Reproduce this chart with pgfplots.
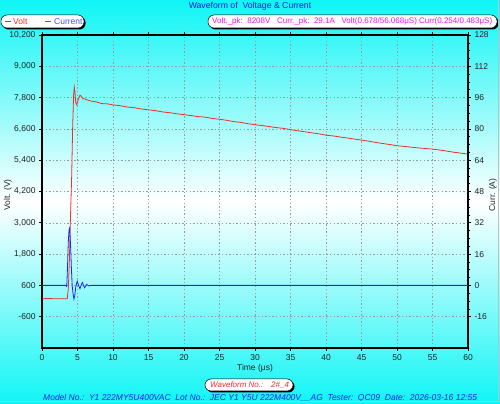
\documentclass[border=0pt]{standalone}
\usepackage{pgfplots}
\pgfplotsset{compat=1.18}
\usepackage{fontspec}
\setmainfont{Liberation Sans}
\usetikzlibrary{shadows}
\definecolor{cy}{RGB}{15,245,245}
\definecolor{vred}{RGB}{240,45,45}
\definecolor{cblue}{RGB}{35,35,240}
\definecolor{ttl}{RGB}{25,25,235}
\definecolor{mag}{RGB}{245,20,245}
\definecolor{gridc}{RGB}{155,155,155}
\definecolor{tickc}{RGB}{35,35,35}
\begin{document}
\begin{tikzpicture}
\shade[top color=cy, bottom color=cy, middle color=white] (0bp,0bp) rectangle (500bp,404bp);
\useasboundingbox (0bp,0bp) rectangle (500bp,404bp);
\pgfplotsset{
  common/.style={
    at={(42bp,56bp)}, anchor=south west, scale only axis,
    width=426bp, height=313bp,
    xmin=0, xmax=60,
    tick align=outside,
    major tick length=3bp, minor tick length=1.5bp,
    tick style={black, line width=0.6bp},
    /pgf/number format/assume math mode=true,
    ticklabel style={font=\fontsize{8.5bp}{10bp}\selectfont, text=tickc},
    scaled ticks=false,
  }
}
\begin{axis}[common,
  ymin=-1800, ymax=10200,
  xtick={0,5,...,60},
  ytick={-600,600,...,10200},
  xtick pos=both, ytick pos=left,
  xticklabel pos=lower,
  yticklabel style={/pgf/number format/1000 sep={,}},
  grid=major,
  major grid style={color=gridc, line width=0.55bp, dash pattern=on 1.4bp off 2.2bp},
  axis line style={black, line width=1.1bp},
  clip=true,
]
\addplot[vred, line width=0.8bp] coordinates {
(0,90) (1,95) (2,88) (3,92) (3.5,90) (3.56,100) (3.7,450) (3.85,1500) (3.99,3020)
(4.18,4790) (4.32,6680) (4.45,7900) (4.55,8200) (4.65,8000) (4.75,7620) (4.89,7530)
(5.1,7720) (5.35,7890) (5.5,7860) (5.7,7780) (5.96,7750) (6.5,7700) (7.0,7660)
(7.6,7640) (8.4,7570) (9.2,7560) (10,7520) (11,7490) (12,7440) (13,7410) (13.8,7370)
(15,7330) (16,7300) (17,7250) (18,7220) (19,7180) (20,7145) (21,7110) (22,7070)
(23,7050) (24,7000) (25,6970) (26,6930) (27,6880) (28,6850) (29,6800) (30,6760)
(31,6730) (32,6690) (33,6650) (34,6620) (35,6570) (36,6530) (37,6490) (38,6450)
(39,6410) (40,6360) (41,6330) (42,6290) (43,6250) (44,6210) (45,6170) (46,6130)
(47,6080) (48,6040) (49,6000) (50,5955) (51,5930) (52,5900) (53,5870) (54,5850)
(55,5825) (56,5790) (57,5750) (58,5705) (59,5670) (60,5635)
};
\end{axis}
\begin{axis}[common,
  ymin=-32, ymax=128,
  axis x line=none, axis y line*=right,
  ytick={-16,0,...,128},
  minor y tick num=3,
  axis line style={black, line width=1.1bp},
]
\addplot[cblue, line width=0.8bp] coordinates {
(0,0) (3.38,0) (3.45,-0.4) (3.5,0.5) (3.6,10) (3.7,22) (3.8,28) (3.87,29.1)
(3.95,26) (4.05,18) (4.15,8) (4.25,0) (4.38,-4.5) (4.5,-7) (4.62,-5) (4.75,-1)
(4.95,2.2) (5.15,0) (5.35,-1.7) (5.55,0.5) (5.7,1.5) (5.85,0) (6.0,-1.2)
(6.3,0.5) (6.6,-0.3) (6.9,0) (60,0)
};
\end{axis}
% axis labels
\node[rotate=90, font=\fontsize{8.5bp}{10bp}\selectfont, text=tickc] at (8bp,209bp) {Volt. (V)};
\node[rotate=90, font=\fontsize{8.5bp}{10bp}\selectfont, text=tickc] at (493bp,209bp) {Curr. (A)};
\node[font=\fontsize{8.5bp}{10bp}\selectfont, text=tickc] at (255bp,36bp) {Time (μs)};
% title
\node[font=\fontsize{8.7bp}{10bp}\selectfont, text=ttl] at (250bp,398bp) {Waveform of\ \ Voltage \& Current};
% legend box
\node[draw=black, line width=0.5bp, fill=white, rounded corners=6bp, minimum width=83bp, minimum height=13bp, inner sep=0pt,
  drop shadow={shadow xshift=1.5bp, shadow yshift=-1.5bp, fill=black, opacity=1}] at (42.5bp,382.5bp) {};
\draw[vred, line width=1bp] (5bp,382.5bp) -- (10.5bp,382.5bp);
\node[anchor=west, inner sep=0pt, font=\fontsize{8.5bp}{10bp}\selectfont, text=vred] at (13bp,382.5bp) {Volt};
\draw[cblue!80, line width=1bp] (45bp,382.5bp) -- (50.5bp,382.5bp);
\node[anchor=west, inner sep=0pt, font=\fontsize{8.5bp}{10bp}\selectfont, text=cblue!80] at (54bp,382.5bp) {Current};
% info box
\node[draw=black, line width=0.5bp, fill=white, rounded corners=6bp, minimum width=289bp, minimum height=13bp, inner sep=0pt,
  drop shadow={shadow xshift=1.5bp, shadow yshift=-1.5bp, fill=black, opacity=1}] at (352.5bp,382.5bp) {};
\node[anchor=west, inner sep=0pt, font=\fontsize{8bp}{10bp}\selectfont, text=mag] at (212bp,382.5bp)
  {Volt.\_pk:\ \ 8208V\ \ \ Curr.\_pk:\ \ 29.1A\ \ \ Volt(0.678/56.068μS) Curr(0.254/0.483μS)};
% waveform no box
\node[draw=black, line width=0.5bp, fill=white, rounded corners=6bp, minimum width=88bp, minimum height=12bp, inner sep=0pt,
  drop shadow={shadow xshift=1.5bp, shadow yshift=-1.5bp, fill=black, opacity=1}] at (249bp,19bp) {};
\node[anchor=west, inner sep=0pt, font=\fontsize{8bp}{10bp}\selectfont\itshape, text=vred] at (210bp,19bp)
  {Waveform No.:};
\node[anchor=west, inner sep=0pt, font=\fontsize{8bp}{10bp}\selectfont\itshape, text=vred] at (271bp,19bp)
  {2\#\_4};
% bottom info line
\node[anchor=west, inner sep=0pt, font=\fontsize{8.5bp}{10bp}\selectfont\itshape, text=cblue] at (43bp,5.5bp)
  {Model No.:\ \ Y1 222MY5U400VAC\ \ Lot No.:\ \ JEC Y1 Y5U 222M400V\_\_AG\ \ Tester:\ \ QC09\ \ Date:\ \ 2026-03-16 12:55};
% window borders
\draw[gray!50, line width=1.2bp] (498.6bp,404bp) -- (498.6bp,3bp);
\draw[gray!50, line width=0.8bp] (0bp,3bp) -- (500bp,3bp);
\end{tikzpicture}
\end{document}
